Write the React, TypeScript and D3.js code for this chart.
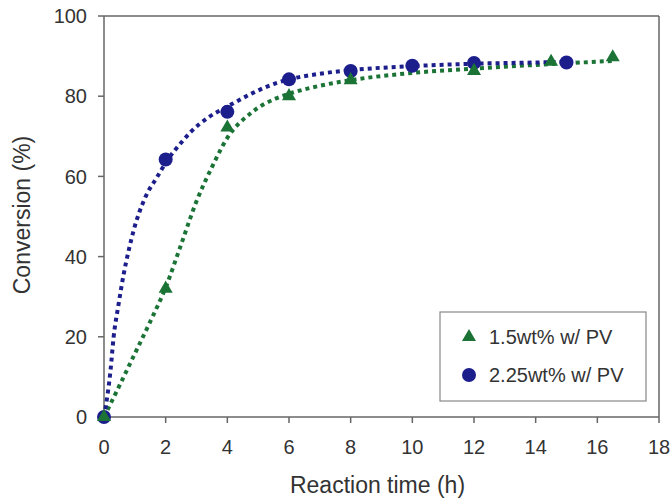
import React from "react";
import * as d3 from "d3";

// Measured markers
const triTimes = [0, 2, 4, 6, 8, 12, 14.5, 16.5];
const triValues = [0, 32, 72.2, 80, 84, 86.3, 88.6, 89.7];
const cirTimes = [0, 2, 4, 6, 8, 10, 12, 15];
const cirValues = [0, 64.2, 76.1, 84.2, 86.3, 87.6, 88.3, 88.4];

// Fitted trend lines
const blueFitTimes = [0, 0.05, 0.21, 0.31, 0.47, 0.64, 0.8, 0.96, 1.34, 1.72, 2.05, 2.48, 2.8, 3.4, 4, 4.8, 5.56, 6, 7, 8, 10, 12, 14, 15.3];
const blueFitValues = [0, 2.3, 11.5, 19.8, 28, 35.7, 41.5, 46.5, 54.8, 59.8, 64, 68.2, 71, 74.8, 77.4, 80.7, 83.2, 84.2, 85.6, 86.5, 87.5, 88.1, 88.4, 88.6];
const greenFitTimes = [0, 0.5, 1, 1.5, 2, 2.5, 3, 3.5, 4, 4.8, 5.56, 6, 7, 8, 10, 12, 14, 16.5];
const greenFitValues = [0, 7.8, 15.8, 23.8, 32.3, 43, 53.8, 62.3, 69.6, 76, 79.4, 80.6, 82.6, 84, 85.8, 86.9, 87.8, 88.8];

const xTicks = [0, 2, 4, 6, 8, 10, 12, 14, 16, 18];
const yTicks = [0, 20, 40, 60, 80, 100];
const legendLabels = ["1.5wt% w/ PV", "2.25wt% w/ PV"];

const GREEN = "#1b7436";
const BLUE = "#1c1e8c";
const AXIS = "#666";
const FONT = "'Liberation Sans', Arial, sans-serif";

export default function App() {
  const W = 670, H = 500;
  const left = 104, right = 659, top = 16, bottom = 417;
  const x = d3.scaleLinear().domain([0, 18]).range([left, right]);
  const y = d3.scaleLinear().domain([0, 100]).range([bottom, top]);

  const line = d3
    .line<[number, number]>()
    .x((d) => x(d[0]))
    .y((d) => y(d[1]))
    .curve(d3.curveMonotoneX);

  const blueFit = blueFitTimes.map((t, i) => [t, blueFitValues[i]] as [number, number]);
  const greenFit = greenFitTimes.map((t, i) => [t, greenFitValues[i]] as [number, number]);
  const tri = d3.symbol(d3.symbolTriangle, 85)() as string;

  return (
    <svg width={W} height={H} style={{ position: "absolute", left: 0, top: 0, background: "#fff" }} fontFamily={FONT}>
      <rect x={0} y={0} width={W} height={H} fill="#fff" />
      {/* frame */}
      <line x1={left} x2={right} y1={top} y2={top} stroke={AXIS} strokeWidth={1.5} />
      <line x1={right} x2={right} y1={top} y2={bottom} stroke={AXIS} strokeWidth={1.5} />
      <line x1={left} x2={left} y1={top} y2={bottom} stroke={AXIS} strokeWidth={1.5} />
      <line x1={left} x2={right} y1={bottom} y2={bottom} stroke={AXIS} strokeWidth={1.5} />
      {yTicks.map((v) => (
        <g key={"y" + v}>
          <line x1={left - 6} x2={left} y1={y(v)} y2={y(v)} stroke={AXIS} strokeWidth={1.5} />
          <text x={left - 17} y={y(v)} dy="0.36em" textAnchor="end" fontSize={20} fill="#333">{v}</text>
        </g>
      ))}
      {xTicks.map((v) => (
        <g key={"x" + v}>
          <line x1={x(v)} x2={x(v)} y1={bottom} y2={bottom + 6} stroke={AXIS} strokeWidth={1.5} />
          <text x={x(v)} y={454} textAnchor="middle" fontSize={20} fill="#333">{v}</text>
        </g>
      ))}
      <text x={(left + right) / 2 - 4} y={493} textAnchor="middle" fontSize={23} fill="#333">Reaction time (h)</text>
      <text transform={`translate(30,215) rotate(-90)`} textAnchor="middle" fontSize={23} fill="#333">Conversion (%)</text>

      {/* fitted lines */}
      <path d={line(greenFit) as string} fill="none" stroke={GREEN} strokeWidth={4} strokeDasharray="4 4" />
      <path d={line(blueFit) as string} fill="none" stroke={BLUE} strokeWidth={4} strokeDasharray="4 4" />

      {/* markers */}
      {cirTimes.map((t, i) => (
        <circle key={"c" + i} cx={x(t)} cy={y(cirValues[i])} r={7} fill={BLUE} />
      ))}
      {triTimes.map((t, i) => (
        <path key={"t" + i} d={tri} transform={`translate(${x(t)},${y(triValues[i])})`} fill={GREEN} />
      ))}

      {/* legend */}
      <rect x={440} y={312} width={206} height={89} fill="#fff" stroke="#888" strokeWidth={1.2} />
      <path d={tri} transform={`translate(469,337)`} fill={GREEN} />
      <text x={489} y={344} fontSize={20} fill="#333">{legendLabels[0]}</text>
      <circle cx={469} cy={375} r={7} fill={BLUE} />
      <text x={489} y={382} fontSize={20} fill="#333">{legendLabels[1]}</text>
    </svg>
  );
}
